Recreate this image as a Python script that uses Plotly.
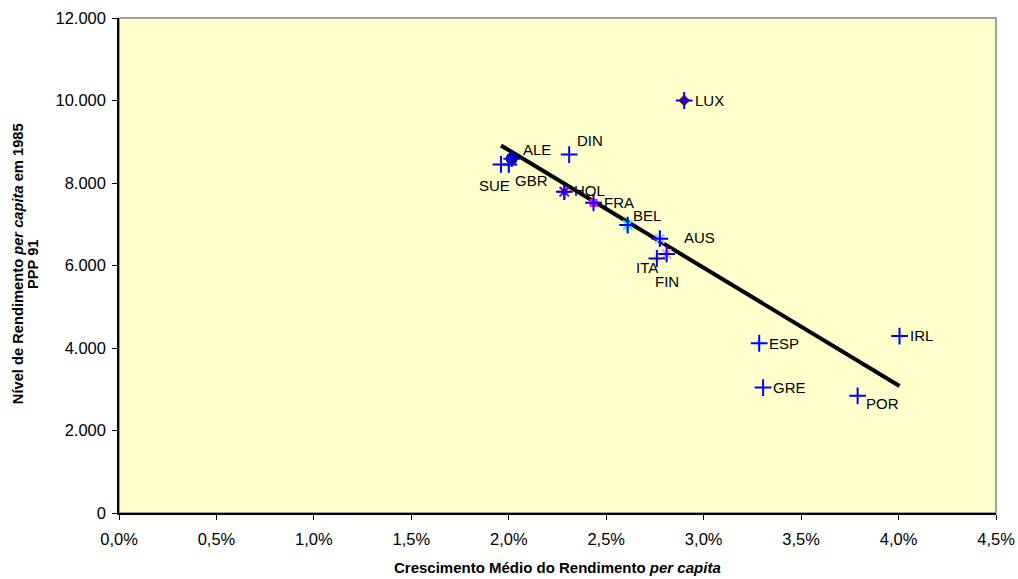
import plotly.graph_objects as go

# Data
countries = ["LUX", "DIN", "ALE", "SUE", "GBR", "HOL", "FRA", "BEL", "AUS", "ITA", "FIN", "ESP", "GRE", "POR", "IRL"]
growth_pct = [2.90, 2.31, 2.015, 1.96, 2.00, 2.285, 2.435, 2.61, 2.775, 2.76, 2.81, 3.285, 3.305, 3.79, 4.005]
income_1985 = [10000, 8690, 8590, 8450, 8450, 7790, 7520, 6980, 6650, 6170, 6280, 4115, 3040, 2840, 4290]

trend_x = [1.96, 4.005]
trend_y = [8910, 3080]

x_ticks = [0.0, 0.5, 1.0, 1.5, 2.0, 2.5, 3.0, 3.5, 4.0, 4.5]
x_tick_labels = ["0,0%", "0,5%", "1,0%", "1,5%", "2,0%", "2,5%", "3,0%", "3,5%", "4,0%", "4,5%"]
y_ticks = [0, 2000, 4000, 6000, 8000, 10000, 12000]
y_tick_labels = ["0", "2.000", "4.000", "6.000", "8.000", "10.000", "12.000"]

# underlay markers (Excel-style series markers) per country
under_symbol = {"LUX": "diamond", "ALE": "circle", "GBR": "cross-thin", "HOL": "asterisk",
                "FRA": "square", "BEL": "asterisk", "AUS": "asterisk", "ITA": "square",
                "FIN": "asterisk", "ESP": "square"}
under_color = {"LUX": "#800000", "ALE": "#000080", "GBR": "#9999FF", "HOL": "#800080",
               "FRA": "#FF00FF", "BEL": "#00FFFF", "AUS": "#99CCFF", "ITA": "#FFFF00",
               "FIN": "#FF99CC", "ESP": "#CCFFFF"}
under_size = {"LUX": 9, "ALE": 12, "GBR": 12, "HOL": 11, "FRA": 8, "BEL": 11, "AUS": 11,
              "ITA": 7, "FIN": 11, "ESP": 7}

# label offsets in pixels (dx, dy) relative to point; dy positive = up
label_offset = {"LUX": (25, 0), "DIN": (21, 14), "ALE": (25, 9), "SUE": (-6, -21),
                "GBR": (23, -16), "HOL": (25, 1), "FRA": (25, 0), "BEL": (19, 10),
                "AUS": (40, 1), "ITA": (-10, -9), "FIN": (0, -28), "ESP": (25, 0),
                "GRE": (26, 0), "POR": (25, -8), "IRL": (22, 1)}

FONT = "Liberation Sans, Arial, sans-serif"

fig = go.Figure()

fig.add_trace(go.Scatter(x=trend_x, y=trend_y, mode="lines",
                         line=dict(color="black", width=4), hoverinfo="skip", showlegend=False))

for c, gx, iy in zip(countries, growth_pct, income_1985):
    if c in under_symbol:
        sym = under_symbol[c]
        col = under_color[c]
        if sym in ("asterisk", "cross-thin"):
            marker = dict(symbol=sym, size=under_size[c], line=dict(color=col, width=2))
        else:
            marker = dict(symbol=sym, size=under_size[c], color=col, line=dict(width=0))
        fig.add_trace(go.Scatter(x=[gx], y=[iy], mode="markers", marker=marker,
                                 showlegend=False, name=c))

fig.add_trace(go.Scatter(x=growth_pct, y=income_1985, mode="markers",
                         marker=dict(symbol="cross-thin", size=12, line=dict(color="#0000FF", width=2)),
                         showlegend=False, text=countries))

annotations = []
for c, gx, iy in zip(countries, growth_pct, income_1985):
    dx, dy = label_offset[c]
    annotations.append(dict(x=gx, y=iy, xref="x", yref="y", text=c, showarrow=False,
                            xshift=dx, yshift=dy,
                            font=dict(family=FONT, size=15, color="#000000")))

annotations.append(dict(xref="paper", yref="paper", x=0.5, y=-0.111, yanchor="middle",
                        text="<b>Crescimento Médio do Rendimento <i>per capita</i></b>",
                        showarrow=False, font=dict(family=FONT, size=15, color="#000")))
annotations.append(dict(xref="paper", yref="paper", x=-0.115, y=0.503, xanchor="center", yanchor="middle",
                        textangle=-90,
                        text="<b>Nível de Rendimento <i>per capita</i> em 1985</b>",
                        showarrow=False, font=dict(family=FONT, size=14.7, color="#000")))
annotations.append(dict(xref="paper", yref="paper", x=-0.098, y=0.503, xanchor="center", yanchor="middle",
                        textangle=-90,
                        text="<b>PPP 91</b>",
                        showarrow=False, font=dict(family=FONT, size=14.7, color="#000")))

fig.update_layout(
    width=1018, height=579,
    margin=dict(l=119, r=22, t=18, b=66),
    paper_bgcolor="white",
    plot_bgcolor="#FFFFCC",
    font=dict(family=FONT, size=16.5, color="#000"),
    annotations=annotations,
    shapes=[dict(type="rect", xref="paper", yref="paper", x0=0, x1=1, y0=0, y1=1,
                 line=dict(color="#808080", width=1.5), layer="below")],
)
fig.update_xaxes(range=[0, 4.5], tickvals=x_ticks, ticktext=x_tick_labels, automargin=False,
                 showgrid=False, zeroline=False, showline=True, linecolor="black", linewidth=1.5,
                 ticks="outside", ticklen=5, tickcolor="black", tickfont=dict(size=16.5),
                 ticklabelstandoff=5)
fig.update_yaxes(range=[0, 12000], tickvals=y_ticks, ticktext=y_tick_labels, automargin=False,
                 showgrid=False, zeroline=False, showline=True, linecolor="black", linewidth=1.5,
                 ticks="outside", ticklen=5, tickcolor="black", tickfont=dict(size=16.5),
                 ticklabelstandoff=3)

fig.write_html("out.html", config={"displayModeBar": False},
               post_script="document.body.style.margin='0';document.body.style.overflow='hidden';")
